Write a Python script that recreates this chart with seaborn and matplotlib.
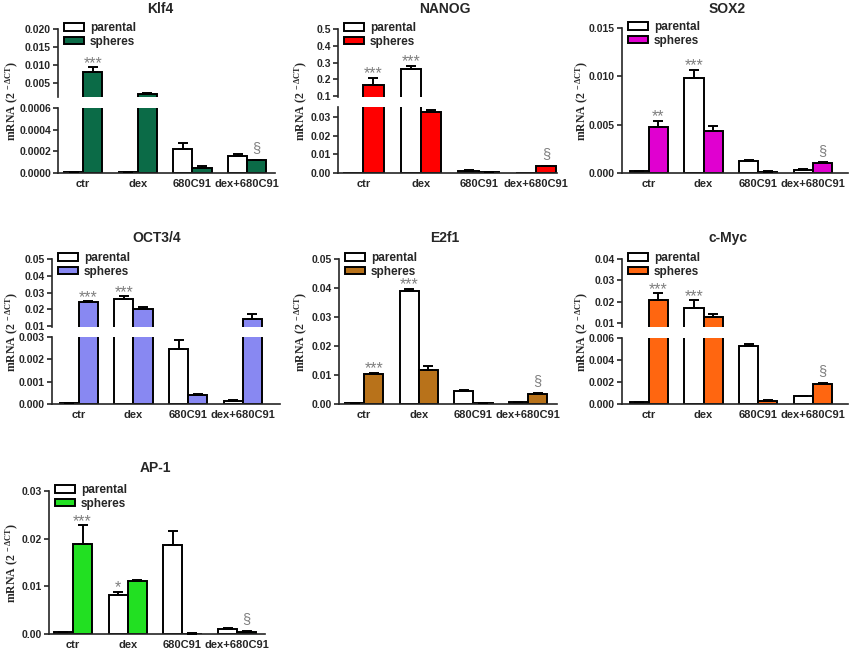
import matplotlib
matplotlib.use("Agg")
import matplotlib.pyplot as plt
from matplotlib.patches import Patch
import numpy as np
import pandas as pd
import seaborn as sns

# ---------------- data ----------------
categories = ["ctr", "dex", "680C91", "dex+680C91"]
groups = ["parental", "spheres"]

klf4_parental = [0.00001, 0.000005, 0.000222, 0.000158]
klf4_parental_err = [0.000002, 0.000001, 0.000052, 0.000016]
klf4_spheres = [0.0081, 0.0020, 0.0000457, 0.000116]
klf4_spheres_err = [0.0012, 0.0001, 0.000015, 0.000006]

nanog_parental = [0.00005, 0.26, 0.0012, 0.00005]
nanog_parental_err = [0.0, 0.022, 0.0002, 0.0]
nanog_spheres = [0.166, 0.0326, 0.0004, 0.0035]
nanog_spheres_err = [0.044, 0.0013, 0.0001, 0.0004]

sox2_parental = [0.00017, 0.0098, 0.00126, 0.00034]
sox2_parental_err = [0.00002, 0.0009, 0.0001, 0.0001]
sox2_spheres = [0.0048, 0.0043, 0.00015, 0.00102]
sox2_spheres_err = [0.0006, 0.0006, 0.00003, 0.00007]

oct_parental = [0.00003, 0.0259, 0.00248, 0.00015]
oct_parental_err = [0.000005, 0.0019, 0.00037, 0.00003]
oct_spheres = [0.0245, 0.0200, 0.0004, 0.014]
oct_spheres_err = [0.0005, 0.0015, 0.00003, 0.0033]

e2f1_parental = [0.0002, 0.0389, 0.0046, 0.0007]
e2f1_parental_err = [0.00002, 0.0009, 0.0003, 0.00005]
e2f1_spheres = [0.01046, 0.0116, 0.0002, 0.0034]
e2f1_spheres_err = [0.0004, 0.0014, 0.00002, 0.0004]

myc_parental = [0.00018, 0.017, 0.00528, 0.00069]
myc_parental_err = [0.00002, 0.0036, 0.00022, 0.00003]
myc_spheres = [0.0206, 0.0128, 0.00024, 0.0018]
myc_spheres_err = [0.0034, 0.0016, 0.00009, 0.00015]

ap1_parental = [0.00035, 0.0081, 0.0187, 0.0011]
ap1_parental_err = [0.00003, 0.0008, 0.0029, 0.0001]
ap1_spheres = [0.0189, 0.0112, 0.0001, 0.0005]
ap1_spheres_err = [0.0039, 0.0001, 0.00001, 0.0001]

# ---------------- style ----------------
sns.set_style("ticks")
plt.rcParams["font.family"] = ["Liberation Sans", "DejaVu Sans"]
plt.rcParams["font.weight"] = "bold"
plt.rcParams["mathtext.fontset"] = "custom"
plt.rcParams["mathtext.rm"] = "Liberation Serif:bold"
plt.rcParams["mathtext.it"] = "Liberation Serif:bold"
plt.rcParams["mathtext.bf"] = "Liberation Serif:bold"

W, H = 858, 651
fig = plt.figure(figsize=(W / 100, H / 100), dpi=100)


def fax(l, r, t, b):
    return fig.add_axes([l / W, 1 - b / H, (r - l) / W, (b - t) / H])


panels = [
    dict(title="Klf4", par=klf4_parental, pe=klf4_parental_err, sph=klf4_spheres, se=klf4_spheres_err,
         color="#0b6b47", box=(58, 275, 29, 173), brk=(97, 108), pad=(0.46, 0.51),
         upper=((0.0011, 0.020), [0.005, 0.010, 0.015, 0.020], 3),
         lower=((0, 0.0006), [0, 0.0002, 0.0004, 0.0006], 4),
         ann=[("spheres", 0, "***"), ("spheres", 3, "§")], tx=160, ty=9, ylx=12),
    dict(title="NANOG", par=nanog_parental, pe=nanog_parental_err, sph=nanog_spheres, se=nanog_spheres_err,
         color="#ff0000", box=(338, 557, 29, 173), brk=(97, 107), pad=(0.44, 0.36),
         upper=((0.096, 0.5), [0.1, 0.2, 0.3, 0.4, 0.5], 1),
         lower=((0, 0.0353), [0, 0.01, 0.02, 0.03], 2),
         ann=[("spheres", 0, "***"), ("parental", 1, "***"), ("spheres", 3, "§")], tx=445, ty=9, ylx=301),
    dict(title="SOX2", par=sox2_parental, pe=sox2_parental_err, sph=sox2_spheres, se=sox2_spheres_err,
         color="#e000d0", box=(622, 848, 28, 173), brk=None, pad=(0.49, 0.64),
         single=((0, 0.015), [0, 0.005, 0.010, 0.015], 3),
         ann=[("spheres", 0, "**"), ("parental", 1, "***"), ("spheres", 3, "§")], tx=727, ty=9, ylx=582),
    dict(title="OCT3/4", par=oct_parental, pe=oct_parental_err, sph=oct_spheres, se=oct_spheres_err,
         color="#8888f2", box=(52, 280, 259, 404), brk=(327, 337), pad=(0.49, 0.68),
         upper=((0.0095, 0.05), [0.01, 0.02, 0.03, 0.04, 0.05], 2),
         lower=((0, 0.003), [0, 0.001, 0.002, 0.003], 3),
         ann=[("spheres", 0, "***"), ("parental", 1, "***")], tx=157, ty=238, ylx=12),
    dict(title="E2f1", par=e2f1_parental, pe=e2f1_parental_err, sph=e2f1_spheres, se=e2f1_spheres_err,
         color="#b8721a", box=(339, 557, 259, 404), brk=None, pad=(0.46, 0.53),
         single=((0, 0.05), [0, 0.01, 0.02, 0.03, 0.04, 0.05], 2),
         ann=[("spheres", 0, "***"), ("parental", 1, "***"), ("spheres", 3, "§")], tx=445, ty=238, ylx=301),
    dict(title="c-Myc", par=myc_parental, pe=myc_parental_err, sph=myc_spheres, se=myc_spheres_err,
         color="#ff6610", box=(622, 848, 259, 404), brk=(327, 338), pad=(0.49, 0.64),
         upper=((0.0081, 0.04), [0.01, 0.02, 0.03, 0.04], 2),
         lower=((0, 0.006), [0, 0.002, 0.004, 0.006], 3),
         ann=[("spheres", 0, "***"), ("parental", 1, "***"), ("spheres", 3, "§")], tx=728, ty=238, ylx=582),
    dict(title="AP-1", par=ap1_parental, pe=ap1_parental_err, sph=ap1_spheres, se=ap1_spheres_err,
         color="#22e022", box=(49, 265, 491, 634), brk=None, pad=(0.44, 0.51),
         single=((0, 0.03), [0, 0.01, 0.02, 0.03], 2),
         ann=[("spheres", 0, "***"), ("parental", 1, "*"), ("spheres", 3, "§")], tx=155, ty=468, ylx=12),
]

LW = 1.4
YLABEL = r"mRNA (2$^{\ -\Delta\mathrm{CT}}$)"


def style_axis(ax, ylim, ticks, dec, pad, show_x):
    ax.set_xlim(-pad[0], 3 + pad[1])
    ax.set_ylim(*ylim)
    ax.set_yticks(ticks)
    ax.set_yticklabels([f"{t:.{dec}f}" for t in ticks])
    ax.set_xlabel("")
    ax.set_ylabel("")
    for s in ["top", "right"]:
        ax.spines[s].set_visible(False)
    for s in ["left", "bottom"]:
        ax.spines[s].set_linewidth(1.2)
    ax.tick_params(axis="y", direction="out", length=3.5, width=1.2, labelsize=7.5, pad=1.5)
    if show_x:
        ax.tick_params(axis="x", length=0, labelsize=8, pad=4)
    else:
        ax.spines["bottom"].set_visible(False)
        ax.tick_params(axis="x", bottom=False, labelbottom=False)


for p in panels:
    l, r, t, b = p["box"]
    df = pd.DataFrame({
        "category": categories * 2,
        "group": ["parental"] * 4 + ["spheres"] * 4,
        "value": p["par"] + p["sph"],
    })
    errs = {"parental": p["pe"], "spheres": p["se"]}
    pal = {"parental": "white", "spheres": p["color"]}

    if p["brk"] is not None:
        ub, lt = p["brk"]
        ax_top = fax(l, r, t, ub)
        ax_bot = fax(l, r, lt, b)
        specs = [(ax_top, p["upper"], False), (ax_bot, p["lower"], True)]
    else:
        ax = fax(l, r, t, b)
        specs = [(ax, p["single"], True)]

    for ax, (ylim, ticks, dec), show_x in specs:
        sns.barplot(data=df, x="category", y="value", hue="group", order=categories,
                    hue_order=groups, palette=pal, saturation=1, edgecolor="black",
                    linewidth=LW, width=0.7, errorbar=None, legend=False, ax=ax)
        tops = {}
        for cont, g in zip(ax.containers, groups):
            for i, (bar, e) in enumerate(zip(cont, errs[g])):
                x = bar.get_x() + bar.get_width() / 2
                h = bar.get_height()
                tops[(g, i)] = (x, h + e)
                if e > 0:
                    ax.errorbar([x], [h], yerr=[[0], [e]], fmt="none", ecolor="black",
                                elinewidth=LW, capsize=3.5, capthick=LW, zorder=3)
        style_axis(ax, ylim, ticks, dec, p["pad"], show_x)
        for g, i, txt in p["ann"]:
            x, y = tops[(g, i)]
            if ylim[0] <= y < ylim[1] or (y >= ylim[1] and ax is specs[0][0]):
                if txt == "§":
                    ax.annotate(txt, xy=(x, y), xytext=(0, 3.5), textcoords="offset points",
                                ha="center", va="bottom", color="#7f7f7f", fontsize=10.5,
                                fontweight="normal", annotation_clip=False)
                else:
                    ax.annotate(txt, xy=(x, y), xytext=(0, -0.5), textcoords="offset points",
                                ha="center", va="baseline", color="#7f7f7f", fontsize=11.5,
                                fontweight="normal", annotation_clip=False)

    handles = [Patch(facecolor=pal[g], edgecolor="black", linewidth=LW) for g in groups]
    fig.legend(handles, groups, loc="upper left",
               bbox_to_anchor=((l + 6) / W, 1 - (t - 7) / H),
               frameon=False, prop={"size": 8.5, "weight": "bold"}, handlelength=1.7,
               handleheight=0.6, handletextpad=0.5, labelspacing=0.15, borderpad=0,
               borderaxespad=0)
    fig.text(p["tx"] / W, 1 - p["ty"] / H, p["title"], ha="center", va="center",
             fontsize=10, fontweight="bold")
    fig.text(p["ylx"] / W, 1 - ((t + b) / 2) / H, YLABEL, rotation=90, ha="center",
             va="center", fontsize=8.5, family="Liberation Serif", fontweight="bold")

fig.savefig("out.png", dpi=100)
